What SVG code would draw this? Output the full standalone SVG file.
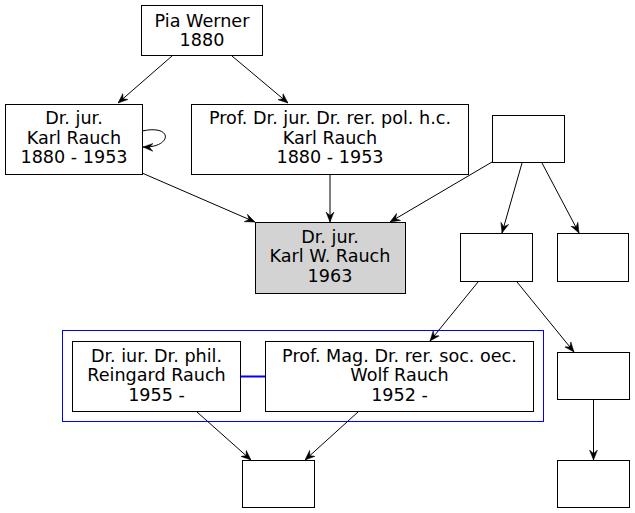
<svg xmlns="http://www.w3.org/2000/svg" width="635" height="513" viewBox="0 0 635 513">
<defs>
<style>
.n{fill:#fff;stroke:#000;stroke-width:1}
.g{fill:#d3d3d3;stroke:#000;stroke-width:1}
.t{font-family:"DejaVu Sans",sans-serif;font-size:17.6px;text-anchor:middle;fill:#000}
.e{fill:none;stroke:#000;stroke-width:1;marker-end:url(#vee)}
</style>
<marker id="vee" viewBox="0 -5 10 10" refX="10" refY="0" markerWidth="10" markerHeight="10" markerUnits="userSpaceOnUse" orient="auto">
<path d="M0,-4 L10,0 L0,4 L3.5,0 Z" fill="#000" stroke="#000" stroke-width="0.5"/>
</marker>
</defs>
<rect width="635" height="513" fill="#fff"/>
<g id="cluster">
<rect x="62.5" y="330.5" width="481" height="91" fill="none" stroke="#0000ff" stroke-width="1"/>
<line x1="240" y1="376.5" x2="265" y2="376.5" stroke="#0000ff" stroke-width="2"/>
</g>
<g id="edges">
<path class="e" d="M172,56 L118,103"/>
<path class="e" d="M232,56 L288,103"/>
<path class="e" d="M142,131 C174,124 172,148 143,147"/>
<path class="e" d="M142,173 L255,222"/>
<path class="e" d="M330,174 L330,222"/>
<path class="e" d="M492,162 L390,222"/>
<path class="e" d="M522,163 L502,233"/>
<path class="e" d="M542,163 L579,233"/>
<path class="e" d="M478,282 L430,341"/>
<path class="e" d="M517,282 L574,352"/>
<path class="e" d="M593.5,400 L593.5,460"/>
<path class="e" d="M197,412 L251,460"/>
<path class="e" d="M358,412 L305,460"/>
</g>
<g id="pia">
<rect class="n" x="141.5" y="5.5" width="121" height="50"/>
<text class="t" x="202" y="26.5">Pia Werner</text>
<text class="t" x="202" y="46">1880</text>
</g>
<g id="karl1">
<rect class="n" x="5.5" y="104.5" width="137" height="70"/>
<text class="t" x="74" y="124">Dr. jur.</text>
<text class="t" x="74" y="143.5">Karl Rauch</text>
<text class="t" x="74" y="163">1880 - 1953</text>
</g>
<g id="karl2">
<rect class="n" x="191.5" y="104.5" width="277" height="70"/>
<text class="t" x="330" y="124">Prof. Dr. jur. Dr. rer. pol. h.c.</text>
<text class="t" x="330" y="143.5">Karl Rauch</text>
<text class="t" x="330" y="163">1880 - 1953</text>
</g>
<g id="empty1">
<rect class="n" x="492.5" y="115.5" width="72" height="47"/>
</g>
<g id="karlw">
<rect class="g" x="255.5" y="222.5" width="150" height="71"/>
<text class="t" x="330" y="242.5">Dr. jur.</text>
<text class="t" x="330" y="262">Karl W. Rauch</text>
<text class="t" x="330" y="281.5">1963</text>
</g>
<g id="empty2">
<rect class="n" x="460.5" y="233.5" width="72" height="48"/>
</g>
<g id="empty3">
<rect class="n" x="557.5" y="233.5" width="71" height="48"/>
</g>
<g id="reingard">
<rect class="n" x="72.5" y="341.5" width="168" height="70"/>
<text class="t" x="156.5" y="361.5">Dr. iur. Dr. phil.</text>
<text class="t" x="156.5" y="381">Reingard Rauch</text>
<text class="t" x="156.5" y="400.5">1955 -</text>
</g>
<g id="wolf">
<rect class="n" x="265.5" y="341.5" width="268" height="70"/>
<text class="t" x="399.5" y="361.5">Prof. Mag. Dr. rer. soc. oec.</text>
<text class="t" x="399.5" y="381">Wolf Rauch</text>
<text class="t" x="399.5" y="400.5">1952 -</text>
</g>
<g id="empty4">
<rect class="n" x="557.5" y="352.5" width="72" height="47"/>
</g>
<g id="empty5">
<rect class="n" x="242.5" y="460.5" width="72" height="47"/>
</g>
<g id="empty6">
<rect class="n" x="557.5" y="460.5" width="72" height="47"/>
</g>
</svg>
